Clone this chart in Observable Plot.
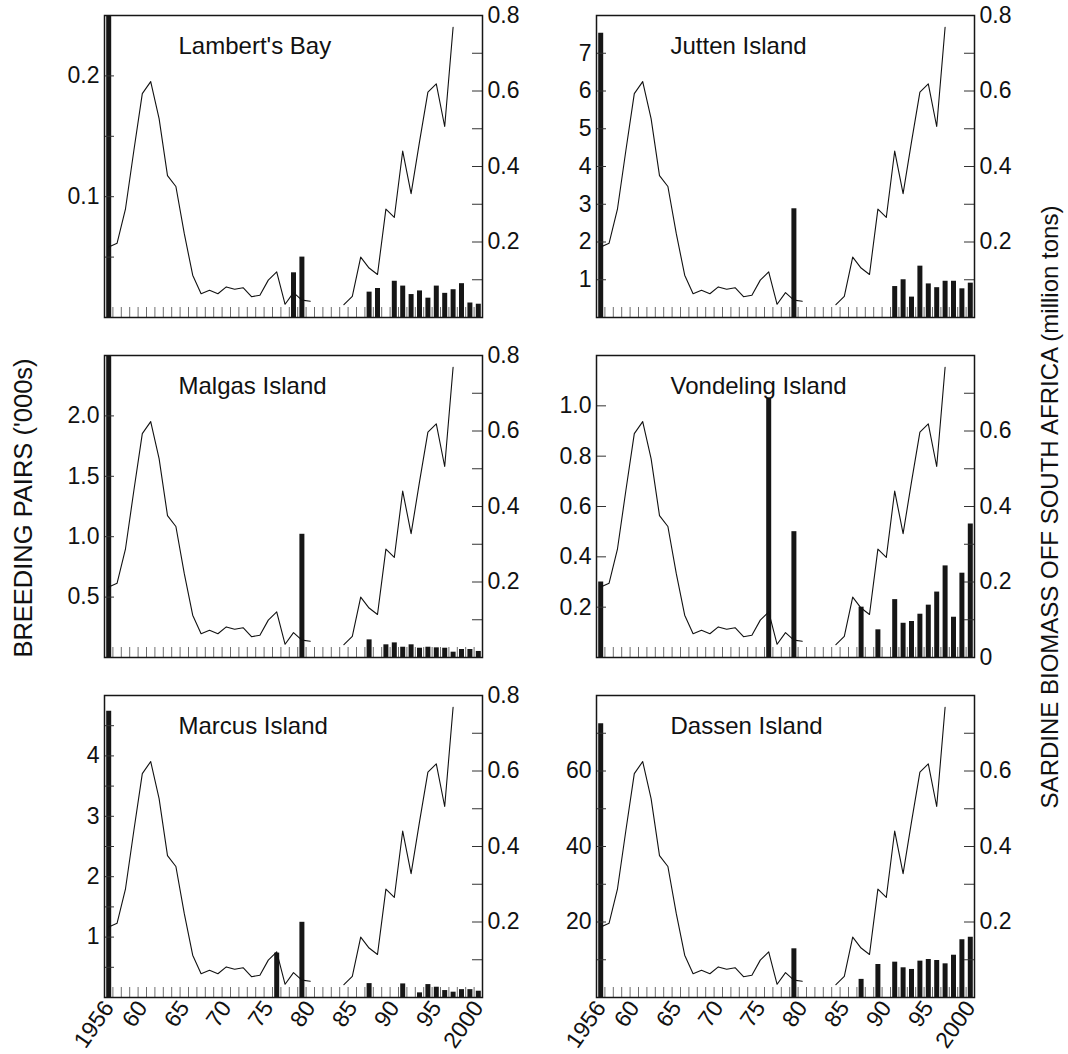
<!DOCTYPE html>
<html>
<head>
<meta charset="utf-8">
<script src="https://cdn.jsdelivr.net/npm/d3@7"></script>
<script src="https://cdn.jsdelivr.net/npm/@observablehq/plot@0.6"></script>
<style>
  body { margin: 0; background: #fff; }
  #wrap { position: relative; width: 1068px; height: 1054px; overflow: hidden; font-family: "Liberation Sans", Arial, sans-serif; color: #111; }
  .panel { position: absolute; }
  .vlabel { position: absolute; white-space: nowrap; transform: translate(-50%, -50%) rotate(-90deg); transform-origin: center; line-height: 1; }
</style>
</head>
<body>
<div id="wrap"></div>
<script>
// ---------- DATA ----------
// Sardine biomass off South Africa (million tons); null = no estimate
const biomassYears = [1956,1957,1958,1959,1960,1961,1962,1963,1964,1965,1966,1967,1968,1969,1970,1971,1972,1973,1974,1975,1976,1977,1978,1979,1980,1981,1982,1983,1984,1985,1986,1987,1988,1989,1990,1991,1992,1993,1994,1995,1996,1997];
const biomassValues = [0.187,0.197,0.288,0.443,0.593,0.625,0.527,0.376,0.347,0.222,0.112,0.063,0.072,0.063,0.081,0.075,0.079,0.055,0.059,0.099,0.121,0.035,0.066,0.046,0.043,null,null,null,0.034,0.056,0.160,0.131,0.114,0.287,0.265,0.441,0.328,0.465,0.597,0.619,0.506,0.769];

// Breeding pairs ('000s) per colony
const lambertYears  = [1956,1978,1979,1987,1988,1990,1991,1992,1993,1994,1995,1996,1997,1998,1999,2000];
const lambertPairs  = [0.25,0.037,0.050,0.021,0.024,0.030,0.026,0.019,0.022,0.016,0.026,0.020,0.023,0.028,0.012,0.011];

const juttenYears   = [1956,1979,1991,1992,1993,1994,1995,1996,1997,1998,1999,2000];
const juttenPairs   = [7.53,2.88,0.82,1.00,0.54,1.36,0.89,0.79,0.96,0.96,0.76,0.91];

const malgasYears   = [1956,1979,1987,1989,1990,1991,1992,1993,1994,1995,1996,1997,1998,1999,2000];
const malgasPairs   = [2.5,1.02,0.146,0.105,0.121,0.085,0.105,0.077,0.085,0.080,0.077,0.044,0.066,0.066,0.050];

const vondelingYears = [1956,1976,1979,1987,1989,1991,1992,1993,1994,1995,1996,1997,1998,1999,2000];
const vondelingPairs = [0.30,1.03,0.50,0.20,0.11,0.23,0.136,0.143,0.172,0.208,0.26,0.364,0.16,0.335,0.53];

const marcusYears   = [1956,1976,1979,1987,1991,1993,1994,1995,1996,1997,1998,1999,2000];
const marcusPairs   = [4.74,0.735,1.245,0.23,0.225,0.077,0.214,0.17,0.115,0.088,0.13,0.13,0.104];

const dassenYears   = [1956,1979,1987,1989,1991,1992,1993,1994,1995,1996,1997,1998,1999,2000];
const dassenPairs   = [72.5,12.9,4.8,8.75,9.36,7.87,7.43,9.63,10.07,9.8,8.92,11.2,15.3,15.96];

// Axis ticks and labels
const xTickYears  = [1956,1960,1965,1970,1975,1980,1985,1990,1995,2000];
const xTickLabels = ["1956","60","65","70","75","80","85","90","95","2000"];
const yearTickMarks = d3.range(1956.5, 2000, 1);
const biomassMax = 0.8;
const biomassTicks = [0.1,0.2,0.3,0.4,0.5,0.6,0.7,0.8];

const leftAxisLabel  = "BREEDING PAIRS ('000s)";
const rightAxisLabel = "SARDINE BIOMASS OFF SOUTH AFRICA (million tons)";

// ---------- PANELS ----------
const panels = [
  {title: "Lambert's Bay", years: lambertYears, values: lambertPairs, yMax: 0.25,
   leftTicks: [0.05,0.1,0.15,0.2], leftLabels: [0.1,0.2], dec: 1,
   rightLabels: [0.2,0.4,0.6,0.8], col: 0, row: 0},
  {title: "Jutten Island", years: juttenYears, values: juttenPairs, yMax: 8,
   leftTicks: [1,2,3,4,5,6,7], leftLabels: [1,2,3,4,5,6,7], dec: 0,
   rightLabels: [0.2,0.4,0.6,0.8], col: 1, row: 0},
  {title: "Malgas Island", years: malgasYears, values: malgasPairs, yMax: 2.5,
   leftTicks: [0.5,1,1.5,2], leftLabels: [0.5,1,1.5,2], dec: 1,
   rightLabels: [0.2,0.4,0.6,0.8], col: 0, row: 1},
  {title: "Vondeling Island", years: vondelingYears, values: vondelingPairs, yMax: 1.2,
   leftTicks: [0.2,0.4,0.6,0.8,1.0], leftLabels: [0.2,0.4,0.6,0.8,1.0], dec: 1,
   rightLabels: [0,0.2,0.4,0.6], col: 1, row: 1},
  {title: "Marcus Island", years: marcusYears, values: marcusPairs, yMax: 5,
   leftTicks: [0.5,1,1.5,2,2.5,3,3.5,4,4.5], leftLabels: [1,2,3,4], dec: 0,
   rightLabels: [0.2,0.4,0.6,0.8], col: 0, row: 2},
  {title: "Dassen Island", years: dassenYears, values: dassenPairs, yMax: 80,
   leftTicks: [10,20,30,40,50,60,70], leftLabels: [20,40,60], dec: 0,
   rightLabels: [0.2,0.4,0.6], col: 1, row: 2}
];

// ---------- LAYOUT ----------
const colLeft = [104, 596];
const rowTop = [15, 355, 695];
const W = 378, H = 302;
const mL = 60, mR = 60, mT = 15;

const wrap = document.getElementById("wrap");
const biomassRows = biomassYears.map((y, i) => ({year: y, b: biomassValues[i]}));

function fmtRight(v) {
  const r = Math.round(v * 10) / 10;
  return r === 0 ? "0" : r.toFixed(1);
}

panels.forEach(p => {
  const k = p.yMax / biomassMax;
  const bottom = p.row === 2;
  const mB = bottom ? 58 : 10;
  const bars = p.years.map((y, i) => ({year: y, value: p.values[i]}));
  const marks = [
    Plot.ruleX(bars, {x: "year", y1: 0, y2: "value", stroke: "#161616", strokeWidth: 5}),
    Plot.ruleX(yearTickMarks, {x: d => d, insetTop: H - 10, stroke: "#6e6e6e", strokeWidth: 1}),
    Plot.line(biomassRows, {x: "year", y: d => d.b == null ? NaN : d.b * k, stroke: "#111", strokeWidth: 1.1}),
    Plot.ruleY(p.leftTicks, {y: d => d, insetRight: W - 10, stroke: "#333", strokeWidth: 1}),
    Plot.ruleY(biomassTicks, {y: d => d * k, insetLeft: W - 10, stroke: "#333", strokeWidth: 1}),
    Plot.axisY({anchor: "left", ticks: p.leftLabels, tickSize: 0, tickPadding: 5, label: null,
                tickFormat: d => d.toFixed(p.dec), fontSize: 23}),
    Plot.axisY({anchor: "right", ticks: p.rightLabels.map(d => d * k), tickSize: 0, tickPadding: 5, label: null,
                tickFormat: d => fmtRight(d / k), fontSize: 23}),
    Plot.frame({stroke: "#161616", strokeWidth: 1.5}),
    Plot.text([p.title], {text: d => d, frameAnchor: "top-left", dx: 74, dy: 38, lineAnchor: "bottom",
                          textAnchor: "start", fontSize: 24, fill: "#111"})
  ];
  if (bottom) {
    marks.push(Plot.axisX({anchor: "bottom", ticks: xTickYears, tickSize: 0, tickPadding: 6, tickRotate: -55,
                           label: null, fontSize: 23,
                           tickFormat: d => xTickLabels[xTickYears.indexOf(d)]}));
  }
  const chart = Plot.plot({
    width: W + mL + mR,
    height: H + mT + mB,
    marginLeft: mL, marginRight: mR, marginTop: mT, marginBottom: mB,
    x: bottom ? {domain: [1955.5, 2000.5]} : {domain: [1955.5, 2000.5], axis: null},
    y: {domain: [0, p.yMax]},
    style: {fontFamily: '"Liberation Sans", Arial, sans-serif', fontSize: "23px", background: "transparent", overflow: "visible", color: "#111"},
    marks
  });
  d3.select(chart).selectAll('g[aria-label$="tick label"] text').style("font-size", "23px");
  chart.classList.add("panel");
  chart.style.left = (colLeft[p.col] - mL) + "px";
  chart.style.top = (rowTop[p.row] - mT) + "px";
  wrap.appendChild(chart);
});

const l1 = document.createElement("div");
l1.className = "vlabel";
l1.textContent = leftAxisLabel;
l1.style.fontSize = "25.5px";
l1.style.left = "24px"; l1.style.top = "508px";
wrap.appendChild(l1);

const l2 = document.createElement("div");
l2.className = "vlabel";
l2.textContent = rightAxisLabel;
l2.style.fontSize = "24px";
l2.style.left = "1050px"; l2.style.top = "507px";
wrap.appendChild(l2);
</script>
</body>
</html>
